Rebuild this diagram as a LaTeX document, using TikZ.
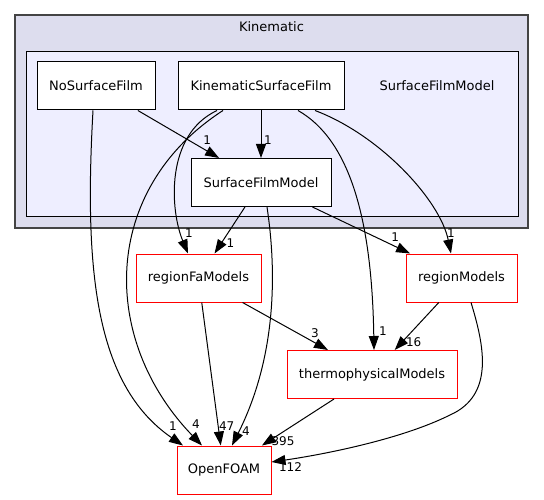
\documentclass[tikz,border=0pt]{standalone}
\usepackage{fontspec}
\setmainfont{DejaVu Sans}
\usepackage{tikz}
\usetikzlibrary{arrows.meta,positioning,calc}
\definecolor{OuterFill}{HTML}{DDDDEE}
\definecolor{InnerFill}{HTML}{EEEEFF}
\definecolor{OuterLine}{HTML}{444444}

\begin{document}
\begin{tikzpicture}[x=1pt,y=-1pt,
  every node/.style={font=\fontsize{13}{15}\selectfont},
  dir/.style={draw=black,line width=1pt,fill=white,minimum height=48pt,inner sep=0pt},
  ext/.style={dir,draw=red},
  lbl/.style={font=\fontsize{12}{14}\selectfont,inner sep=0pt},
  dep/.style={-{Triangle[length=14pt,width=10pt]},line width=1pt}]
  \useasboundingbox (0,0) rectangle (544,500);
  % clusters
  \node[draw=OuterLine,line width=1.3pt,fill=OuterFill,minimum width=513pt,minimum height=213pt,inner sep=0pt] (kin) at (271.5,121.5) {};
  \node (kinlbl) at (271.5,27) {Kinematic};
  \node[draw=black,line width=1pt,fill=InnerFill,minimum width=492pt,minimum height=165pt,inner sep=0pt] (sfmdir) at (272,134.5) {};
  \node (sfmlbl) at (437,86) {SurfaceFilmModel};
  % directories
  \node[dir,minimum width=118pt] (nosf) at (96,86) {NoSurfaceFilm};
  \node[dir,minimum width=166pt] (ksf) at (261,86) {KinematicSurfaceFilm};
  \node[dir,minimum width=140pt] (sfm) at (261,182.5) {SurfaceFilmModel};
  \node[ext,minimum width=125pt] (rfa) at (198.5,278) {regionFaModels};
  \node[ext,minimum width=111pt] (rm) at (461.5,278) {regionModels};
  \node[ext,minimum width=170pt] (thermo) at (372,374.5) {thermophysicalModels};
  \node[ext,minimum width=94pt] (of) at (224,470) {OpenFOAM};
  % straight dependencies
  \draw[dep] (nosf) -- (sfm) node[lbl,pos=1,shift={(-12,-18)}] (l1) {1};
  \draw[dep] (ksf) -- (sfm) node[lbl,pos=1,shift={(7,-18)}] (l2) {1};
  \draw[dep] (sfm) -- (rfa) node[lbl,pos=1,shift={(16,-10)}] (l3) {1};
  \draw[dep] (sfm) -- (rm) node[lbl,pos=1,shift={(-15,-16)}] (l4) {1};
  \draw[dep] (rfa) -- (thermo) node[lbl,pos=1,shift={(-13,-17)}] (l5) {3};
  \draw[dep] (rm) -- (thermo) node[lbl,pos=1,shift={(19,-8)}] (l6) {16};
  \draw[dep] (rfa) -- (of) node[lbl,pos=1,shift={(6,-19)}] (l7) {47};
  \draw[dep] (thermo) -- (of) node[lbl,pos=1,shift={(21,-4)}] (l8) {395};
  % curved dependencies
  \draw[dep] ($(nosf.south)+(-3,0)$) .. controls (84,270) and (95,385) .. ($(of.north)+(-41,0)$)
    node[lbl,pos=1,shift={(-10,-19)}] (l9) {1};
  \draw[dep] ($(ksf.south)+(-38,0)$) .. controls (100,190) and (100,340) .. ($(of.north)+(-22,0)$)
    node[lbl,pos=1,shift={(-6,-21)}] (l10) {4};
  \draw[dep] ($(ksf.south)+(-44,0)$) .. controls (165,135) and (170,210) .. ($(rfa.north)+(-10.5,0)$)
    node[lbl,pos=1,shift={(1,-20)}] (l11) {1};
  \draw[dep] ($(ksf.south)+(37,0)$) .. controls (350,140) and (372,220) .. ($(thermo.north)+(2,0)$)
    node[lbl,pos=1,shift={(9,-19)}] (l12) {1};
  \draw[dep] ($(ksf.south)+(54,0)$) .. controls (380,135) and (440,200) .. ($(rm.north)+(-10.5,0)$)
    node[lbl,pos=1,shift={(0,-20)}] (l13) {1};
  \draw[dep] ($(sfm.south)+(6,0)$) .. controls (275,260) and (280,350) .. ($(of.north)+(8,0)$)
    node[lbl,pos=1,shift={(14,-14)}] (l14) {4};
  \draw[dep] ($(rm.south)+(9.5,0)$) .. controls (484,345) and (495,395) .. (450,415)
    .. controls (400,440) and (320,455) .. ($(of.east)+(0,-8)$)
    node[lbl,pos=1,shift={(19,5)}] (l15) {112};
\end{tikzpicture}
\end{document}
